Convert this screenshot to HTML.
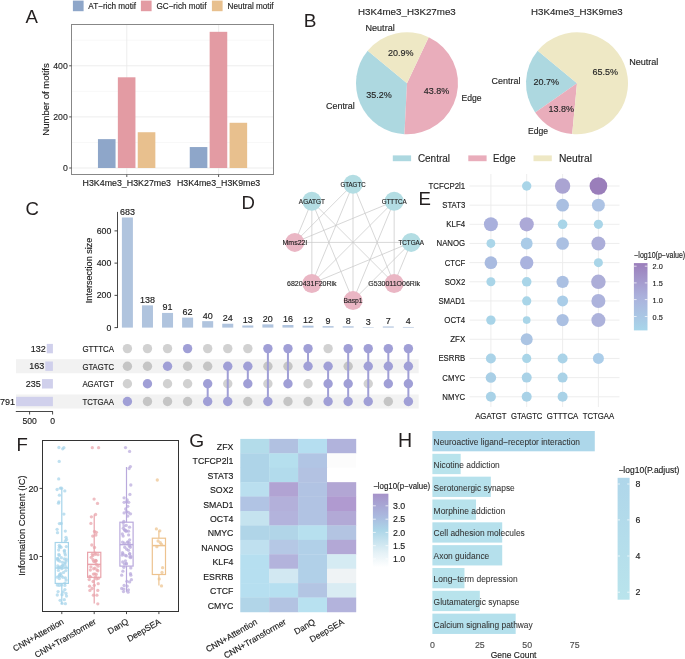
<!DOCTYPE html>
<html><head><meta charset="utf-8"><style>
html,body{margin:0;padding:0;background:#fff;}
body{width:685px;height:659px;overflow:hidden;}
svg{display:block;font-family:"Liberation Sans",sans-serif;will-change:transform;}
</style></head><body>
<svg width="685" height="659" viewBox="0 0 685 659">
<rect width="685" height="659" fill="#fff"/>
<text x="25.6" y="23" font-size="18.6" fill="#231f1f">A</text>
<text x="303.8" y="27.3" font-size="19" fill="#231f1f">B</text>
<text x="25.6" y="214.5" font-size="18.6" fill="#231f1f">C</text>
<text x="241.6" y="209.4" font-size="18.6" fill="#231f1f">D</text>
<text x="418.6" y="205" font-size="18.6" fill="#231f1f">E</text>
<text x="16.6" y="450.9" font-size="18.6" fill="#231f1f">F</text>
<text x="189.3" y="447.2" font-size="19.2" fill="#231f1f">G</text>
<text x="398" y="446.9" font-size="19.6" fill="#231f1f">H</text>
<line x1="71.5" y1="142.45" x2="273.5" y2="142.45" stroke="#f4f4f4" stroke-width="0.6"/>
<line x1="71.5" y1="91.35" x2="273.5" y2="91.35" stroke="#f4f4f4" stroke-width="0.6"/>
<line x1="71.5" y1="40.25" x2="273.5" y2="40.25" stroke="#f4f4f4" stroke-width="0.6"/>
<line x1="71.5" y1="168" x2="273.5" y2="168" stroke="#ebebeb" stroke-width="0.9"/>
<line x1="71.5" y1="116.9" x2="273.5" y2="116.9" stroke="#ebebeb" stroke-width="0.9"/>
<line x1="71.5" y1="65.8" x2="273.5" y2="65.8" stroke="#ebebeb" stroke-width="0.9"/>
<line x1="126.8" y1="24.5" x2="126.8" y2="174.5" stroke="#ebebeb" stroke-width="0.9"/>
<line x1="218.6" y1="24.5" x2="218.6" y2="174.5" stroke="#ebebeb" stroke-width="0.9"/>
<rect x="97.95" y="139.13" width="17.6" height="28.87" fill="#8ea6c9"/>
<rect x="117.85" y="77.3" width="17.6" height="90.7" fill="#e39ba3"/>
<rect x="137.75" y="132.23" width="17.6" height="35.77" fill="#e8c08e"/>
<rect x="189.75" y="147.05" width="17.6" height="20.95" fill="#8ea6c9"/>
<rect x="209.65" y="31.82" width="17.6" height="136.18" fill="#e39ba3"/>
<rect x="229.55" y="122.78" width="17.6" height="45.22" fill="#e8c08e"/>
<rect x="71.5" y="24.5" width="202" height="150" fill="none" stroke="#878787" stroke-width="1"/>
<line x1="69.2" y1="168" x2="71.5" y2="168" stroke="#444" stroke-width="0.9"/>
<text x="67.8" y="171.4" font-size="9.5" fill="#262626" stroke="#262626" stroke-width="0.14" text-anchor="end" textLength="4.85" lengthAdjust="spacingAndGlyphs">0</text>
<line x1="69.2" y1="116.9" x2="71.5" y2="116.9" stroke="#444" stroke-width="0.9"/>
<text x="67.8" y="120.3" font-size="9.5" fill="#262626" stroke="#262626" stroke-width="0.14" text-anchor="end" textLength="14.55" lengthAdjust="spacingAndGlyphs">200</text>
<line x1="69.2" y1="65.8" x2="71.5" y2="65.8" stroke="#444" stroke-width="0.9"/>
<text x="67.8" y="69.2" font-size="9.5" fill="#262626" stroke="#262626" stroke-width="0.14" text-anchor="end" textLength="14.55" lengthAdjust="spacingAndGlyphs">400</text>
<line x1="126.8" y1="174.5" x2="126.8" y2="177" stroke="#444" stroke-width="0.9"/>
<line x1="218.6" y1="174.5" x2="218.6" y2="177" stroke="#444" stroke-width="0.9"/>
<text x="126.8" y="185.6" font-size="9" fill="#1a1a1a" stroke="#1a1a1a" stroke-width="0.14" text-anchor="middle" textLength="88.5" lengthAdjust="spacingAndGlyphs">H3K4me3_H3K27me3</text>
<text x="218.6" y="185.6" font-size="9" fill="#1a1a1a" stroke="#1a1a1a" stroke-width="0.14" text-anchor="middle" textLength="83.2" lengthAdjust="spacingAndGlyphs">H3K4me3_H3K9me3</text>
<text x="0" y="0" font-size="9.6" fill="#1a1a1a" stroke="#1a1a1a" stroke-width="0.14" text-anchor="middle" textLength="72.3" lengthAdjust="spacingAndGlyphs" transform="translate(49.3,99.5) rotate(-90)">Number of motifs</text>
<rect x="72.9" y="0.6" width="10.7" height="10.6" fill="#8ea6c9"/>
<text x="88.3" y="8.9" font-size="8.8" fill="#1a1a1a" stroke="#1a1a1a" stroke-width="0.14" textLength="47.7" lengthAdjust="spacingAndGlyphs">AT−rich motif</text>
<rect x="140.9" y="0.6" width="10.7" height="10.6" fill="#e39ba3"/>
<text x="156.4" y="8.9" font-size="8.8" fill="#1a1a1a" stroke="#1a1a1a" stroke-width="0.14" textLength="50" lengthAdjust="spacingAndGlyphs">GC−rich motif</text>
<rect x="211.9" y="0.6" width="10.7" height="10.6" fill="#e8c08e"/>
<text x="227.6" y="8.9" font-size="8.8" fill="#1a1a1a" stroke="#1a1a1a" stroke-width="0.14" textLength="46" lengthAdjust="spacingAndGlyphs">Neutral motif</text>
<path d="M407,83.3 L367.7,50.79 A51,51 0 0 0 404.44,134.24 Z" fill="#add8e0"/>
<path d="M407,83.3 L404.44,134.24 A51,51 0 0 0 428.71,37.15 Z" fill="#e9adbb"/>
<path d="M407,83.3 L428.71,37.15 A51,51 0 0 0 367.7,50.79 Z" fill="#eee8c5"/>
<path d="M577,83.3 L537.7,50.79 A51,51 0 0 0 535.18,112.49 Z" fill="#add8e0"/>
<path d="M577,83.3 L535.18,112.49 A51,51 0 0 0 572.2,134.07 Z" fill="#e9adbb"/>
<path d="M577,83.3 L572.2,134.07 A51,51 0 1 0 537.7,50.79 Z" fill="#eee8c5"/>
<text x="406.9" y="15" font-size="9.3" fill="#262626" stroke="#262626" stroke-width="0.14" text-anchor="middle" textLength="97.8" lengthAdjust="spacingAndGlyphs">H3K4me3_H3K27me3</text>
<text x="576.9" y="15" font-size="9.3" fill="#262626" stroke="#262626" stroke-width="0.14" text-anchor="middle" textLength="91.7" lengthAdjust="spacingAndGlyphs">H3K4me3_H3K9me3</text>
<text x="380.1" y="31.3" font-size="9" fill="#262626" stroke="#262626" stroke-width="0.14" text-anchor="middle" textLength="29.2" lengthAdjust="spacingAndGlyphs">Neutral</text>
<text x="340.4" y="108.6" font-size="9" fill="#262626" stroke="#262626" stroke-width="0.14" text-anchor="middle" textLength="28.9" lengthAdjust="spacingAndGlyphs">Central</text>
<text x="471.5" y="100.6" font-size="9" fill="#262626" stroke="#262626" stroke-width="0.14" text-anchor="middle" textLength="20.1" lengthAdjust="spacingAndGlyphs">Edge</text>
<text x="400.8" y="56.3" font-size="9" fill="#262626" stroke="#262626" stroke-width="0.14" text-anchor="middle" textLength="25.5" lengthAdjust="spacingAndGlyphs">20.9%</text>
<text x="378.9" y="98.4" font-size="9" fill="#262626" stroke="#262626" stroke-width="0.14" text-anchor="middle" textLength="25.5" lengthAdjust="spacingAndGlyphs">35.2%</text>
<text x="436.4" y="93.6" font-size="9" fill="#262626" stroke="#262626" stroke-width="0.14" text-anchor="middle" textLength="25.5" lengthAdjust="spacingAndGlyphs">43.8%</text>
<text x="643.8" y="65.3" font-size="9" fill="#262626" stroke="#262626" stroke-width="0.14" text-anchor="middle" textLength="29.2" lengthAdjust="spacingAndGlyphs">Neutral</text>
<text x="506" y="83.6" font-size="9" fill="#262626" stroke="#262626" stroke-width="0.14" text-anchor="middle" textLength="28.9" lengthAdjust="spacingAndGlyphs">Central</text>
<text x="538" y="134.3" font-size="9" fill="#262626" stroke="#262626" stroke-width="0.14" text-anchor="middle" textLength="20.1" lengthAdjust="spacingAndGlyphs">Edge</text>
<text x="605.3" y="74.7" font-size="9" fill="#262626" stroke="#262626" stroke-width="0.14" text-anchor="middle" textLength="25.5" lengthAdjust="spacingAndGlyphs">65.5%</text>
<text x="546.3" y="84.9" font-size="9" fill="#262626" stroke="#262626" stroke-width="0.14" text-anchor="middle" textLength="25.5" lengthAdjust="spacingAndGlyphs">20.7%</text>
<text x="561.3" y="112.4" font-size="9" fill="#262626" stroke="#262626" stroke-width="0.14" text-anchor="middle" textLength="25.5" lengthAdjust="spacingAndGlyphs">13.8%</text>
<rect x="392.8" y="155.4" width="18.3" height="5.8" fill="#add8e0"/>
<text x="417.9" y="161.8" font-size="10" fill="#262626" stroke="#262626" stroke-width="0.14" textLength="32.1" lengthAdjust="spacingAndGlyphs">Central</text>
<rect x="468.3" y="155.4" width="18.3" height="5.8" fill="#e9adbb"/>
<text x="493" y="161.8" font-size="10" fill="#262626" stroke="#262626" stroke-width="0.14" textLength="22.5" lengthAdjust="spacingAndGlyphs">Edge</text>
<rect x="533.5" y="155.4" width="18.3" height="5.8" fill="#eee8c5"/>
<text x="558.9" y="161.8" font-size="10" fill="#262626" stroke="#262626" stroke-width="0.14" textLength="33.1" lengthAdjust="spacingAndGlyphs">Neutral</text>
<rect x="121.9" y="217.5" width="11" height="110.1" fill="#b0c4de"/>
<text x="127.4" y="214.9" font-size="8.4" fill="#1a1a1a" stroke="#1a1a1a" stroke-width="0.14" text-anchor="middle" textLength="15" lengthAdjust="spacingAndGlyphs">683</text>
<rect x="141.97" y="305.35" width="11" height="22.25" fill="#b0c4de"/>
<text x="147.47" y="302.75" font-size="8.4" fill="#1a1a1a" stroke="#1a1a1a" stroke-width="0.14" text-anchor="middle" textLength="15" lengthAdjust="spacingAndGlyphs">138</text>
<rect x="162.04" y="312.93" width="11" height="14.67" fill="#b0c4de"/>
<text x="167.54" y="310.33" font-size="8.4" fill="#1a1a1a" stroke="#1a1a1a" stroke-width="0.14" text-anchor="middle" textLength="10" lengthAdjust="spacingAndGlyphs">91</text>
<rect x="182.11" y="317.61" width="11" height="9.99" fill="#b0c4de"/>
<text x="187.61" y="315.01" font-size="8.4" fill="#1a1a1a" stroke="#1a1a1a" stroke-width="0.14" text-anchor="middle" textLength="10" lengthAdjust="spacingAndGlyphs">62</text>
<rect x="202.18" y="321.15" width="11" height="6.45" fill="#b0c4de"/>
<text x="207.68" y="318.55" font-size="8.4" fill="#1a1a1a" stroke="#1a1a1a" stroke-width="0.14" text-anchor="middle" textLength="10" lengthAdjust="spacingAndGlyphs">40</text>
<rect x="222.25" y="323.73" width="11" height="3.87" fill="#b0c4de"/>
<text x="227.75" y="321.13" font-size="8.4" fill="#1a1a1a" stroke="#1a1a1a" stroke-width="0.14" text-anchor="middle" textLength="10" lengthAdjust="spacingAndGlyphs">24</text>
<rect x="242.32" y="325.5" width="11" height="2.1" fill="#b0c4de"/>
<text x="247.82" y="322.9" font-size="8.4" fill="#1a1a1a" stroke="#1a1a1a" stroke-width="0.14" text-anchor="middle" textLength="10" lengthAdjust="spacingAndGlyphs">13</text>
<rect x="262.39" y="324.38" width="11" height="3.22" fill="#b0c4de"/>
<text x="267.89" y="321.78" font-size="8.4" fill="#1a1a1a" stroke="#1a1a1a" stroke-width="0.14" text-anchor="middle" textLength="10" lengthAdjust="spacingAndGlyphs">20</text>
<rect x="282.46" y="325.02" width="11" height="2.58" fill="#b0c4de"/>
<text x="287.96" y="322.42" font-size="8.4" fill="#1a1a1a" stroke="#1a1a1a" stroke-width="0.14" text-anchor="middle" textLength="10" lengthAdjust="spacingAndGlyphs">16</text>
<rect x="302.53" y="325.67" width="11" height="1.93" fill="#b0c4de"/>
<text x="308.03" y="323.07" font-size="8.4" fill="#1a1a1a" stroke="#1a1a1a" stroke-width="0.14" text-anchor="middle" textLength="10" lengthAdjust="spacingAndGlyphs">12</text>
<rect x="322.6" y="326.15" width="11" height="1.45" fill="#b0c4de"/>
<text x="328.1" y="323.55" font-size="8.4" fill="#1a1a1a" stroke="#1a1a1a" stroke-width="0.14" text-anchor="middle" textLength="5" lengthAdjust="spacingAndGlyphs">9</text>
<rect x="342.67" y="326.31" width="11" height="1.29" fill="#b0c4de"/>
<text x="348.17" y="323.71" font-size="8.4" fill="#1a1a1a" stroke="#1a1a1a" stroke-width="0.14" text-anchor="middle" textLength="5" lengthAdjust="spacingAndGlyphs">8</text>
<rect x="362.74" y="327.12" width="11" height="0.48" fill="#b0c4de"/>
<text x="368.24" y="324.52" font-size="8.4" fill="#1a1a1a" stroke="#1a1a1a" stroke-width="0.14" text-anchor="middle" textLength="5" lengthAdjust="spacingAndGlyphs">3</text>
<rect x="382.81" y="326.47" width="11" height="1.13" fill="#b0c4de"/>
<text x="388.31" y="323.87" font-size="8.4" fill="#1a1a1a" stroke="#1a1a1a" stroke-width="0.14" text-anchor="middle" textLength="5" lengthAdjust="spacingAndGlyphs">7</text>
<rect x="402.88" y="326.96" width="11" height="0.64" fill="#b0c4de"/>
<text x="408.38" y="324.36" font-size="8.4" fill="#1a1a1a" stroke="#1a1a1a" stroke-width="0.14" text-anchor="middle" textLength="5" lengthAdjust="spacingAndGlyphs">4</text>
<line x1="117.5" y1="211.9" x2="117.5" y2="328" stroke="#333" stroke-width="0.9"/>
<line x1="114.5" y1="327.6" x2="117.5" y2="327.6" stroke="#333" stroke-width="0.9"/>
<text x="111.3" y="330.7" font-size="8.75" fill="#1a1a1a" stroke="#1a1a1a" stroke-width="0.14" text-anchor="end" textLength="4.87" lengthAdjust="spacingAndGlyphs">0</text>
<line x1="114.5" y1="295.36" x2="117.5" y2="295.36" stroke="#333" stroke-width="0.9"/>
<text x="111.3" y="298.46" font-size="8.75" fill="#1a1a1a" stroke="#1a1a1a" stroke-width="0.14" text-anchor="end" textLength="14.61" lengthAdjust="spacingAndGlyphs">200</text>
<line x1="114.5" y1="263.12" x2="117.5" y2="263.12" stroke="#333" stroke-width="0.9"/>
<text x="111.3" y="266.22" font-size="8.75" fill="#1a1a1a" stroke="#1a1a1a" stroke-width="0.14" text-anchor="end" textLength="14.61" lengthAdjust="spacingAndGlyphs">400</text>
<line x1="114.5" y1="230.88" x2="117.5" y2="230.88" stroke="#333" stroke-width="0.9"/>
<text x="111.3" y="233.98" font-size="8.75" fill="#1a1a1a" stroke="#1a1a1a" stroke-width="0.14" text-anchor="end" textLength="14.61" lengthAdjust="spacingAndGlyphs">600</text>
<text x="0" y="0" font-size="8.6" fill="#1a1a1a" stroke="#1a1a1a" stroke-width="0.14" text-anchor="middle" textLength="65.5" lengthAdjust="spacingAndGlyphs" transform="translate(92.2,270.4) rotate(-90)">Intersection size</text>
<rect x="16" y="359.15" width="402.7" height="14.1" fill="#f2f2f2"/>
<rect x="16" y="394.45" width="402.7" height="14.1" fill="#f2f2f2"/>
<rect x="46.76" y="343.9" width="6.14" height="9.4" fill="#d0d0ec"/>
<text x="45.66" y="351.7" font-size="8.6" fill="#1a1a1a" stroke="#1a1a1a" stroke-width="0.14" text-anchor="end" textLength="15" lengthAdjust="spacingAndGlyphs">132</text>
<text x="114" y="351.9" font-size="8.8" fill="#1a1a1a" stroke="#1a1a1a" stroke-width="0.14" text-anchor="end" textLength="31.6" lengthAdjust="spacingAndGlyphs">GTTTCA</text>
<rect x="45.31" y="361.5" width="7.59" height="9.4" fill="#d0d0ec"/>
<text x="44.21" y="369.3" font-size="8.6" fill="#1a1a1a" stroke="#1a1a1a" stroke-width="0.14" text-anchor="end" textLength="15" lengthAdjust="spacingAndGlyphs">163</text>
<text x="114" y="369.5" font-size="8.8" fill="#1a1a1a" stroke="#1a1a1a" stroke-width="0.14" text-anchor="end" textLength="31.6" lengthAdjust="spacingAndGlyphs">GTAGTC</text>
<rect x="41.96" y="379.1" width="10.94" height="9.4" fill="#d0d0ec"/>
<text x="40.86" y="386.9" font-size="8.6" fill="#1a1a1a" stroke="#1a1a1a" stroke-width="0.14" text-anchor="end" textLength="15" lengthAdjust="spacingAndGlyphs">235</text>
<text x="114" y="387.1" font-size="8.8" fill="#1a1a1a" stroke="#1a1a1a" stroke-width="0.14" text-anchor="end" textLength="31.6" lengthAdjust="spacingAndGlyphs">AGATGT</text>
<rect x="16.08" y="396.8" width="36.82" height="9.4" fill="#d0d0ec"/>
<text x="14.98" y="404.6" font-size="8.6" fill="#1a1a1a" stroke="#1a1a1a" stroke-width="0.14" text-anchor="end" textLength="15" lengthAdjust="spacingAndGlyphs">791</text>
<text x="114" y="404.8" font-size="8.8" fill="#1a1a1a" stroke="#1a1a1a" stroke-width="0.14" text-anchor="end" textLength="31.6" lengthAdjust="spacingAndGlyphs">TCTGAA</text>
<line x1="15.8" y1="411.5" x2="52.9" y2="411.5" stroke="#333" stroke-width="0.9"/>
<line x1="29.6" y1="411.5" x2="29.6" y2="414.5" stroke="#333" stroke-width="0.9"/>
<line x1="52.6" y1="411.5" x2="52.6" y2="414.5" stroke="#333" stroke-width="0.9"/>
<text x="29.6" y="424.3" font-size="8.6" fill="#1a1a1a" stroke="#1a1a1a" stroke-width="0.14" text-anchor="middle">500</text>
<text x="52.6" y="424.3" font-size="8.6" fill="#1a1a1a" stroke="#1a1a1a" stroke-width="0.14" text-anchor="middle">0</text>
<circle cx="127.4" cy="348.6" r="4.7" fill="#d1d1d1"/>
<circle cx="127.4" cy="366.2" r="4.7" fill="#c5c5c5"/>
<circle cx="127.4" cy="383.8" r="4.7" fill="#d1d1d1"/>
<circle cx="127.4" cy="401.5" r="4.7" fill="#a09fd6"/>
<circle cx="147.47" cy="348.6" r="4.7" fill="#d1d1d1"/>
<circle cx="147.47" cy="366.2" r="4.7" fill="#c5c5c5"/>
<circle cx="147.47" cy="401.5" r="4.7" fill="#c5c5c5"/>
<circle cx="147.47" cy="383.8" r="4.7" fill="#a09fd6"/>
<circle cx="167.54" cy="348.6" r="4.7" fill="#d1d1d1"/>
<circle cx="167.54" cy="383.8" r="4.7" fill="#d1d1d1"/>
<circle cx="167.54" cy="401.5" r="4.7" fill="#c5c5c5"/>
<circle cx="167.54" cy="366.2" r="4.7" fill="#a09fd6"/>
<circle cx="187.61" cy="366.2" r="4.7" fill="#c5c5c5"/>
<circle cx="187.61" cy="383.8" r="4.7" fill="#d1d1d1"/>
<circle cx="187.61" cy="401.5" r="4.7" fill="#c5c5c5"/>
<circle cx="187.61" cy="348.6" r="4.7" fill="#a09fd6"/>
<circle cx="207.68" cy="348.6" r="4.7" fill="#d1d1d1"/>
<circle cx="207.68" cy="366.2" r="4.7" fill="#c5c5c5"/>
<line x1="207.68" y1="383.8" x2="207.68" y2="401.5" stroke="#a09fd6" stroke-width="2"/>
<circle cx="207.68" cy="383.8" r="4.7" fill="#a09fd6"/>
<circle cx="207.68" cy="401.5" r="4.7" fill="#a09fd6"/>
<circle cx="227.75" cy="348.6" r="4.7" fill="#d1d1d1"/>
<circle cx="227.75" cy="383.8" r="4.7" fill="#d1d1d1"/>
<line x1="227.75" y1="366.2" x2="227.75" y2="401.5" stroke="#a09fd6" stroke-width="2"/>
<circle cx="227.75" cy="366.2" r="4.7" fill="#a09fd6"/>
<circle cx="227.75" cy="401.5" r="4.7" fill="#a09fd6"/>
<circle cx="247.82" cy="348.6" r="4.7" fill="#d1d1d1"/>
<circle cx="247.82" cy="401.5" r="4.7" fill="#c5c5c5"/>
<line x1="247.82" y1="366.2" x2="247.82" y2="383.8" stroke="#a09fd6" stroke-width="2"/>
<circle cx="247.82" cy="366.2" r="4.7" fill="#a09fd6"/>
<circle cx="247.82" cy="383.8" r="4.7" fill="#a09fd6"/>
<circle cx="267.89" cy="366.2" r="4.7" fill="#c5c5c5"/>
<circle cx="267.89" cy="383.8" r="4.7" fill="#d1d1d1"/>
<line x1="267.89" y1="348.6" x2="267.89" y2="401.5" stroke="#a09fd6" stroke-width="2"/>
<circle cx="267.89" cy="348.6" r="4.7" fill="#a09fd6"/>
<circle cx="267.89" cy="401.5" r="4.7" fill="#a09fd6"/>
<circle cx="287.96" cy="366.2" r="4.7" fill="#c5c5c5"/>
<circle cx="287.96" cy="401.5" r="4.7" fill="#c5c5c5"/>
<line x1="287.96" y1="348.6" x2="287.96" y2="383.8" stroke="#a09fd6" stroke-width="2"/>
<circle cx="287.96" cy="348.6" r="4.7" fill="#a09fd6"/>
<circle cx="287.96" cy="383.8" r="4.7" fill="#a09fd6"/>
<circle cx="308.03" cy="383.8" r="4.7" fill="#d1d1d1"/>
<circle cx="308.03" cy="401.5" r="4.7" fill="#c5c5c5"/>
<line x1="308.03" y1="348.6" x2="308.03" y2="366.2" stroke="#a09fd6" stroke-width="2"/>
<circle cx="308.03" cy="348.6" r="4.7" fill="#a09fd6"/>
<circle cx="308.03" cy="366.2" r="4.7" fill="#a09fd6"/>
<circle cx="328.1" cy="348.6" r="4.7" fill="#d1d1d1"/>
<line x1="328.1" y1="366.2" x2="328.1" y2="401.5" stroke="#a09fd6" stroke-width="2"/>
<circle cx="328.1" cy="366.2" r="4.7" fill="#a09fd6"/>
<circle cx="328.1" cy="383.8" r="4.7" fill="#a09fd6"/>
<circle cx="328.1" cy="401.5" r="4.7" fill="#a09fd6"/>
<circle cx="348.17" cy="366.2" r="4.7" fill="#c5c5c5"/>
<line x1="348.17" y1="348.6" x2="348.17" y2="401.5" stroke="#a09fd6" stroke-width="2"/>
<circle cx="348.17" cy="348.6" r="4.7" fill="#a09fd6"/>
<circle cx="348.17" cy="383.8" r="4.7" fill="#a09fd6"/>
<circle cx="348.17" cy="401.5" r="4.7" fill="#a09fd6"/>
<circle cx="368.24" cy="383.8" r="4.7" fill="#d1d1d1"/>
<line x1="368.24" y1="348.6" x2="368.24" y2="401.5" stroke="#a09fd6" stroke-width="2"/>
<circle cx="368.24" cy="348.6" r="4.7" fill="#a09fd6"/>
<circle cx="368.24" cy="366.2" r="4.7" fill="#a09fd6"/>
<circle cx="368.24" cy="401.5" r="4.7" fill="#a09fd6"/>
<circle cx="388.31" cy="401.5" r="4.7" fill="#c5c5c5"/>
<line x1="388.31" y1="348.6" x2="388.31" y2="383.8" stroke="#a09fd6" stroke-width="2"/>
<circle cx="388.31" cy="348.6" r="4.7" fill="#a09fd6"/>
<circle cx="388.31" cy="366.2" r="4.7" fill="#a09fd6"/>
<circle cx="388.31" cy="383.8" r="4.7" fill="#a09fd6"/>
<line x1="408.38" y1="348.6" x2="408.38" y2="401.5" stroke="#a09fd6" stroke-width="2"/>
<circle cx="408.38" cy="348.6" r="4.7" fill="#a09fd6"/>
<circle cx="408.38" cy="366.2" r="4.7" fill="#a09fd6"/>
<circle cx="408.38" cy="383.8" r="4.7" fill="#a09fd6"/>
<circle cx="408.38" cy="401.5" r="4.7" fill="#a09fd6"/>
<line x1="353" y1="184.2" x2="294.8" y2="242.4" stroke="#c9c9c9" stroke-width="0.75"/>
<line x1="353" y1="184.2" x2="311.85" y2="283.55" stroke="#c9c9c9" stroke-width="0.75"/>
<line x1="353" y1="184.2" x2="353" y2="300.6" stroke="#c9c9c9" stroke-width="0.75"/>
<line x1="353" y1="184.2" x2="394.15" y2="283.55" stroke="#c9c9c9" stroke-width="0.75"/>
<line x1="311.85" y1="201.25" x2="294.8" y2="242.4" stroke="#c9c9c9" stroke-width="0.75"/>
<line x1="311.85" y1="201.25" x2="311.85" y2="283.55" stroke="#c9c9c9" stroke-width="0.75"/>
<line x1="311.85" y1="201.25" x2="353" y2="300.6" stroke="#c9c9c9" stroke-width="0.75"/>
<line x1="311.85" y1="201.25" x2="394.15" y2="283.55" stroke="#c9c9c9" stroke-width="0.75"/>
<line x1="394.15" y1="201.25" x2="294.8" y2="242.4" stroke="#c9c9c9" stroke-width="0.75"/>
<line x1="394.15" y1="201.25" x2="311.85" y2="283.55" stroke="#c9c9c9" stroke-width="0.75"/>
<line x1="394.15" y1="201.25" x2="353" y2="300.6" stroke="#c9c9c9" stroke-width="0.75"/>
<line x1="394.15" y1="201.25" x2="394.15" y2="283.55" stroke="#c9c9c9" stroke-width="0.75"/>
<line x1="411.2" y1="242.4" x2="294.8" y2="242.4" stroke="#c9c9c9" stroke-width="0.75"/>
<line x1="411.2" y1="242.4" x2="311.85" y2="283.55" stroke="#c9c9c9" stroke-width="0.75"/>
<line x1="411.2" y1="242.4" x2="353" y2="300.6" stroke="#c9c9c9" stroke-width="0.75"/>
<line x1="411.2" y1="242.4" x2="394.15" y2="283.55" stroke="#c9c9c9" stroke-width="0.75"/>
<circle cx="353" cy="184.2" r="9.5" fill="#b3dde3"/>
<circle cx="311.85" cy="201.25" r="9.5" fill="#b3dde3"/>
<circle cx="394.15" cy="201.25" r="9.5" fill="#b3dde3"/>
<circle cx="411.2" cy="242.4" r="9.5" fill="#b3dde3"/>
<circle cx="294.8" cy="242.4" r="9.5" fill="#eab6c4"/>
<circle cx="311.85" cy="283.55" r="9.5" fill="#eab6c4"/>
<circle cx="353" cy="300.6" r="9.5" fill="#eab6c4"/>
<circle cx="394.15" cy="283.55" r="9.5" fill="#eab6c4"/>
<text x="353" y="186.7" font-size="7" fill="#1f1f1f" stroke="#1f1f1f" stroke-width="0.14" text-anchor="middle" textLength="25.2" lengthAdjust="spacingAndGlyphs">GTAGTC</text>
<text x="311.85" y="203.75" font-size="7" fill="#1f1f1f" stroke="#1f1f1f" stroke-width="0.14" text-anchor="middle" textLength="26" lengthAdjust="spacingAndGlyphs">AGATGT</text>
<text x="394.15" y="203.75" font-size="7" fill="#1f1f1f" stroke="#1f1f1f" stroke-width="0.14" text-anchor="middle" textLength="25" lengthAdjust="spacingAndGlyphs">GTTTCA</text>
<text x="411.2" y="244.9" font-size="7" fill="#1f1f1f" stroke="#1f1f1f" stroke-width="0.14" text-anchor="middle" textLength="25.6" lengthAdjust="spacingAndGlyphs">TCTGAA</text>
<text x="294.8" y="244.9" font-size="7" fill="#1f1f1f" stroke="#1f1f1f" stroke-width="0.14" text-anchor="middle" textLength="24.6" lengthAdjust="spacingAndGlyphs">Mms22l</text>
<text x="311.85" y="286.05" font-size="7" fill="#1f1f1f" stroke="#1f1f1f" stroke-width="0.14" text-anchor="middle" textLength="49.6" lengthAdjust="spacingAndGlyphs">6820431F20Rik</text>
<text x="353" y="303.1" font-size="7" fill="#1f1f1f" stroke="#1f1f1f" stroke-width="0.14" text-anchor="middle" textLength="19.2" lengthAdjust="spacingAndGlyphs">Basp1</text>
<text x="394.15" y="286.05" font-size="7" fill="#1f1f1f" stroke="#1f1f1f" stroke-width="0.14" text-anchor="middle" textLength="51.6" lengthAdjust="spacingAndGlyphs">G530011O06Rik</text>
<line x1="490.9" y1="174" x2="490.9" y2="407" stroke="#ebebeb" stroke-width="0.9"/>
<line x1="526.7" y1="174" x2="526.7" y2="407" stroke="#ebebeb" stroke-width="0.9"/>
<line x1="562.6" y1="174" x2="562.6" y2="407" stroke="#ebebeb" stroke-width="0.9"/>
<line x1="598.4" y1="174" x2="598.4" y2="407" stroke="#ebebeb" stroke-width="0.9"/>
<line x1="469.5" y1="186" x2="619.5" y2="186" stroke="#ebebeb" stroke-width="0.9"/>
<line x1="469.5" y1="205.16" x2="619.5" y2="205.16" stroke="#ebebeb" stroke-width="0.9"/>
<line x1="469.5" y1="224.32" x2="619.5" y2="224.32" stroke="#ebebeb" stroke-width="0.9"/>
<line x1="469.5" y1="243.48" x2="619.5" y2="243.48" stroke="#ebebeb" stroke-width="0.9"/>
<line x1="469.5" y1="262.64" x2="619.5" y2="262.64" stroke="#ebebeb" stroke-width="0.9"/>
<line x1="469.5" y1="281.8" x2="619.5" y2="281.8" stroke="#ebebeb" stroke-width="0.9"/>
<line x1="469.5" y1="300.96" x2="619.5" y2="300.96" stroke="#ebebeb" stroke-width="0.9"/>
<line x1="469.5" y1="320.12" x2="619.5" y2="320.12" stroke="#ebebeb" stroke-width="0.9"/>
<line x1="469.5" y1="339.28" x2="619.5" y2="339.28" stroke="#ebebeb" stroke-width="0.9"/>
<line x1="469.5" y1="358.44" x2="619.5" y2="358.44" stroke="#ebebeb" stroke-width="0.9"/>
<line x1="469.5" y1="377.6" x2="619.5" y2="377.6" stroke="#ebebeb" stroke-width="0.9"/>
<line x1="469.5" y1="396.76" x2="619.5" y2="396.76" stroke="#ebebeb" stroke-width="0.9"/>
<text x="465.2" y="189" font-size="8.3" fill="#1a1a1a" stroke="#1a1a1a" stroke-width="0.14" text-anchor="end" textLength="36.7" lengthAdjust="spacingAndGlyphs">TCFCP2l1</text>
<text x="465.2" y="208.16" font-size="8.3" fill="#1a1a1a" stroke="#1a1a1a" stroke-width="0.14" text-anchor="end" textLength="22.9" lengthAdjust="spacingAndGlyphs">STAT3</text>
<text x="465.2" y="227.32" font-size="8.3" fill="#1a1a1a" stroke="#1a1a1a" stroke-width="0.14" text-anchor="end" textLength="18.9" lengthAdjust="spacingAndGlyphs">KLF4</text>
<text x="465.2" y="246.48" font-size="8.3" fill="#1a1a1a" stroke="#1a1a1a" stroke-width="0.14" text-anchor="end" textLength="28.7" lengthAdjust="spacingAndGlyphs">NANOG</text>
<text x="465.2" y="265.64" font-size="8.3" fill="#1a1a1a" stroke="#1a1a1a" stroke-width="0.14" text-anchor="end" textLength="20.5" lengthAdjust="spacingAndGlyphs">CTCF</text>
<text x="465.2" y="284.8" font-size="8.3" fill="#1a1a1a" stroke="#1a1a1a" stroke-width="0.14" text-anchor="end" textLength="20.5" lengthAdjust="spacingAndGlyphs">SOX2</text>
<text x="465.2" y="303.96" font-size="8.3" fill="#1a1a1a" stroke="#1a1a1a" stroke-width="0.14" text-anchor="end" textLength="26.8" lengthAdjust="spacingAndGlyphs">SMAD1</text>
<text x="465.2" y="323.12" font-size="8.3" fill="#1a1a1a" stroke="#1a1a1a" stroke-width="0.14" text-anchor="end" textLength="20.9" lengthAdjust="spacingAndGlyphs">OCT4</text>
<text x="465.2" y="342.28" font-size="8.3" fill="#1a1a1a" stroke="#1a1a1a" stroke-width="0.14" text-anchor="end" textLength="15" lengthAdjust="spacingAndGlyphs">ZFX</text>
<text x="465.2" y="361.44" font-size="8.3" fill="#1a1a1a" stroke="#1a1a1a" stroke-width="0.14" text-anchor="end" textLength="26.8" lengthAdjust="spacingAndGlyphs">ESRRB</text>
<text x="465.2" y="380.6" font-size="8.3" fill="#1a1a1a" stroke="#1a1a1a" stroke-width="0.14" text-anchor="end" textLength="22.9" lengthAdjust="spacingAndGlyphs">CMYC</text>
<text x="465.2" y="399.76" font-size="8.3" fill="#1a1a1a" stroke="#1a1a1a" stroke-width="0.14" text-anchor="end" textLength="22.9" lengthAdjust="spacingAndGlyphs">NMYC</text>
<text x="490.9" y="419" font-size="8.2" fill="#1a1a1a" stroke="#1a1a1a" stroke-width="0.14" text-anchor="middle" textLength="31.5" lengthAdjust="spacingAndGlyphs">AGATGT</text>
<text x="526.7" y="419" font-size="8.2" fill="#1a1a1a" stroke="#1a1a1a" stroke-width="0.14" text-anchor="middle" textLength="31.5" lengthAdjust="spacingAndGlyphs">GTAGTC</text>
<text x="562.6" y="419" font-size="8.2" fill="#1a1a1a" stroke="#1a1a1a" stroke-width="0.14" text-anchor="middle" textLength="31.5" lengthAdjust="spacingAndGlyphs">GTTTCA</text>
<text x="598.4" y="419" font-size="8.2" fill="#1a1a1a" stroke="#1a1a1a" stroke-width="0.14" text-anchor="middle" textLength="31.5" lengthAdjust="spacingAndGlyphs">TCTGAA</text>
<circle cx="526.7" cy="186" r="4.7" fill="#a9d5e8"/>
<circle cx="562.6" cy="186" r="7.65" fill="#aaa4d2"/>
<circle cx="598.4" cy="186" r="8.85" fill="#9a7eba"/>
<circle cx="562.6" cy="205.16" r="6.35" fill="#a9bfe1"/>
<circle cx="598.4" cy="205.16" r="6.45" fill="#adc3e4"/>
<circle cx="490.9" cy="224.32" r="7" fill="#a9b0dc"/>
<circle cx="526.7" cy="224.32" r="7.1" fill="#aca9d7"/>
<circle cx="562.6" cy="224.32" r="4.8" fill="#a9d5e8"/>
<circle cx="598.4" cy="224.32" r="4.6" fill="#a9d5e8"/>
<circle cx="490.9" cy="243.48" r="4.4" fill="#abd6e9"/>
<circle cx="526.7" cy="243.48" r="5.9" fill="#aacbe7"/>
<circle cx="562.6" cy="243.48" r="6.35" fill="#abc0e2"/>
<circle cx="598.4" cy="243.48" r="7" fill="#acaed9"/>
<circle cx="490.9" cy="262.64" r="6.35" fill="#a9bbe0"/>
<circle cx="526.7" cy="262.64" r="6.7" fill="#aab3de"/>
<circle cx="598.4" cy="262.64" r="4.5" fill="#a9d5e8"/>
<circle cx="490.9" cy="281.8" r="4.5" fill="#a9d5e8"/>
<circle cx="526.7" cy="281.8" r="4.8" fill="#a9d5e8"/>
<circle cx="562.6" cy="281.8" r="6.15" fill="#abc0e2"/>
<circle cx="598.4" cy="281.8" r="7.25" fill="#adaed8"/>
<circle cx="526.7" cy="300.96" r="4.6" fill="#a9d5e8"/>
<circle cx="562.6" cy="300.96" r="5.5" fill="#aacde8"/>
<circle cx="598.4" cy="300.96" r="7" fill="#adb3dc"/>
<circle cx="490.9" cy="320.12" r="4.7" fill="#a8d4e8"/>
<circle cx="526.7" cy="320.12" r="3.85" fill="#a9d5e8"/>
<circle cx="562.6" cy="320.12" r="6.15" fill="#abc0e2"/>
<circle cx="598.4" cy="320.12" r="7" fill="#adb2db"/>
<circle cx="526.7" cy="339.28" r="6" fill="#abc4e3"/>
<circle cx="490.9" cy="358.44" r="5" fill="#aad3e8"/>
<circle cx="526.7" cy="358.44" r="4.6" fill="#a9d5e8"/>
<circle cx="562.6" cy="358.44" r="5" fill="#aad3e8"/>
<circle cx="598.4" cy="358.44" r="5.5" fill="#abcde9"/>
<circle cx="490.9" cy="377.6" r="5.25" fill="#a9cfe6"/>
<circle cx="526.7" cy="377.6" r="5" fill="#a9d2e7"/>
<circle cx="562.6" cy="377.6" r="5" fill="#a9d2e7"/>
<circle cx="490.9" cy="396.76" r="5" fill="#a9d2e7"/>
<circle cx="526.7" cy="396.76" r="5" fill="#a9d2e7"/>
<circle cx="562.6" cy="396.76" r="5" fill="#a9d2e7"/>
<defs><linearGradient id="gE" x1="0" y1="0" x2="0" y2="1"><stop offset="0" stop-color="#9b7ebb"/><stop offset="0.5" stop-color="#abb1dc"/><stop offset="1" stop-color="#a8d6ea"/></linearGradient><linearGradient id="gG" x1="0" y1="0" x2="0" y2="1"><stop offset="0" stop-color="#a692c9"/><stop offset="0.3" stop-color="#aab8de"/><stop offset="0.5" stop-color="#acd6e8"/><stop offset="0.8" stop-color="#e4f1f6"/><stop offset="1" stop-color="#ffffff"/></linearGradient><linearGradient id="gH" x1="0" y1="0" x2="0" y2="1"><stop offset="0" stop-color="#afd6ea"/><stop offset="1" stop-color="#b9e4ec"/></linearGradient></defs>
<rect x="633.9" y="263.1" width="13.6" height="67.3" fill="url(#gE)"/>
<line x1="633.9" y1="266.2" x2="636.6" y2="266.2" stroke="#ffffff" stroke-width="0.7"/>
<line x1="644.8" y1="266.2" x2="647.5" y2="266.2" stroke="#ffffff" stroke-width="0.7"/>
<text x="652.6" y="269.2" font-size="8" fill="#1a1a1a" stroke="#1a1a1a" stroke-width="0.14" textLength="10.2" lengthAdjust="spacingAndGlyphs">2.0</text>
<line x1="633.9" y1="282.9" x2="636.6" y2="282.9" stroke="#ffffff" stroke-width="0.7"/>
<line x1="644.8" y1="282.9" x2="647.5" y2="282.9" stroke="#ffffff" stroke-width="0.7"/>
<text x="652.6" y="285.9" font-size="8" fill="#1a1a1a" stroke="#1a1a1a" stroke-width="0.14" textLength="10.2" lengthAdjust="spacingAndGlyphs">1.5</text>
<line x1="633.9" y1="299.6" x2="636.6" y2="299.6" stroke="#ffffff" stroke-width="0.7"/>
<line x1="644.8" y1="299.6" x2="647.5" y2="299.6" stroke="#ffffff" stroke-width="0.7"/>
<text x="652.6" y="302.6" font-size="8" fill="#1a1a1a" stroke="#1a1a1a" stroke-width="0.14" textLength="10.2" lengthAdjust="spacingAndGlyphs">1.0</text>
<line x1="633.9" y1="316.5" x2="636.6" y2="316.5" stroke="#ffffff" stroke-width="0.7"/>
<line x1="644.8" y1="316.5" x2="647.5" y2="316.5" stroke="#ffffff" stroke-width="0.7"/>
<text x="652.6" y="319.5" font-size="8" fill="#1a1a1a" stroke="#1a1a1a" stroke-width="0.14" textLength="10.2" lengthAdjust="spacingAndGlyphs">0.5</text>
<text x="634.2" y="258.2" font-size="8.2" fill="#1a1a1a" stroke="#1a1a1a" stroke-width="0.14" textLength="51" lengthAdjust="spacingAndGlyphs">−log10(p−value)</text>
<circle cx="58.9" cy="447.5" r="1.65" fill="#a6d4ea" fill-opacity="0.72"/>
<circle cx="62.7" cy="448.8" r="1.65" fill="#a6d4ea" fill-opacity="0.72"/>
<circle cx="63.9" cy="447.7" r="1.65" fill="#a6d4ea" fill-opacity="0.72"/>
<circle cx="59.2" cy="461.4" r="1.65" fill="#a6d4ea" fill-opacity="0.72"/>
<circle cx="58.7" cy="478.9" r="1.65" fill="#a6d4ea" fill-opacity="0.72"/>
<circle cx="57.1" cy="489.5" r="1.65" fill="#a6d4ea" fill-opacity="0.72"/>
<circle cx="60.3" cy="488.2" r="1.65" fill="#a6d4ea" fill-opacity="0.72"/>
<circle cx="61.6" cy="488.2" r="1.65" fill="#a6d4ea" fill-opacity="0.72"/>
<circle cx="64.8" cy="490.9" r="1.65" fill="#a6d4ea" fill-opacity="0.72"/>
<circle cx="59.4" cy="495.2" r="1.65" fill="#a6d4ea" fill-opacity="0.72"/>
<circle cx="58.5" cy="503.2" r="1.65" fill="#a6d4ea" fill-opacity="0.72"/>
<circle cx="58.9" cy="501.8" r="1.65" fill="#a6d4ea" fill-opacity="0.72"/>
<circle cx="63.9" cy="514.1" r="1.65" fill="#a6d4ea" fill-opacity="0.72"/>
<circle cx="59.4" cy="523.6" r="1.65" fill="#a6d4ea" fill-opacity="0.72"/>
<circle cx="61.2" cy="523.5" r="1.65" fill="#a6d4ea" fill-opacity="0.72"/>
<circle cx="57.1" cy="529.3" r="1.65" fill="#a6d4ea" fill-opacity="0.72"/>
<circle cx="57.5" cy="532.7" r="1.65" fill="#a6d4ea" fill-opacity="0.72"/>
<circle cx="65.3" cy="531.1" r="1.65" fill="#a6d4ea" fill-opacity="0.72"/>
<circle cx="66" cy="537.3" r="1.65" fill="#a6d4ea" fill-opacity="0.72"/>
<circle cx="66.6" cy="539.5" r="1.65" fill="#a6d4ea" fill-opacity="0.72"/>
<circle cx="65.3" cy="540.9" r="1.65" fill="#a6d4ea" fill-opacity="0.72"/>
<circle cx="57.3" cy="585.1" r="1.65" fill="#a6d4ea" fill-opacity="0.72"/>
<circle cx="59.2" cy="585.4" r="1.65" fill="#a6d4ea" fill-opacity="0.72"/>
<circle cx="61.5" cy="585.1" r="1.65" fill="#a6d4ea" fill-opacity="0.72"/>
<circle cx="64.9" cy="585.4" r="1.65" fill="#a6d4ea" fill-opacity="0.72"/>
<circle cx="58.1" cy="591.6" r="1.65" fill="#a6d4ea" fill-opacity="0.72"/>
<circle cx="64.9" cy="589.6" r="1.65" fill="#a6d4ea" fill-opacity="0.72"/>
<circle cx="63.2" cy="591.9" r="1.65" fill="#a6d4ea" fill-opacity="0.72"/>
<circle cx="57.3" cy="595" r="1.65" fill="#a6d4ea" fill-opacity="0.72"/>
<circle cx="62" cy="594.7" r="1.65" fill="#a6d4ea" fill-opacity="0.72"/>
<circle cx="66" cy="593.5" r="1.65" fill="#a6d4ea" fill-opacity="0.72"/>
<circle cx="66.5" cy="596.1" r="1.65" fill="#a6d4ea" fill-opacity="0.72"/>
<circle cx="60.1" cy="600.3" r="1.65" fill="#a6d4ea" fill-opacity="0.72"/>
<circle cx="64.3" cy="599.7" r="1.65" fill="#a6d4ea" fill-opacity="0.72"/>
<circle cx="62" cy="603.4" r="1.65" fill="#a6d4ea" fill-opacity="0.72"/>
<circle cx="65.4" cy="603.7" r="1.65" fill="#a6d4ea" fill-opacity="0.72"/>
<circle cx="65.7" cy="566.66" r="1.65" fill="#a6d4ea" fill-opacity="0.72"/>
<circle cx="62.6" cy="565.51" r="1.65" fill="#a6d4ea" fill-opacity="0.72"/>
<circle cx="62.99" cy="565.61" r="1.65" fill="#a6d4ea" fill-opacity="0.72"/>
<circle cx="59.99" cy="546.35" r="1.65" fill="#a6d4ea" fill-opacity="0.72"/>
<circle cx="63.58" cy="572.45" r="1.65" fill="#a6d4ea" fill-opacity="0.72"/>
<circle cx="66.08" cy="580.05" r="1.65" fill="#a6d4ea" fill-opacity="0.72"/>
<circle cx="58.65" cy="567.68" r="1.65" fill="#a6d4ea" fill-opacity="0.72"/>
<circle cx="57.75" cy="565.97" r="1.65" fill="#a6d4ea" fill-opacity="0.72"/>
<circle cx="57.48" cy="558.39" r="1.65" fill="#a6d4ea" fill-opacity="0.72"/>
<circle cx="64.95" cy="563.93" r="1.65" fill="#a6d4ea" fill-opacity="0.72"/>
<circle cx="61.8" cy="568.69" r="1.65" fill="#a6d4ea" fill-opacity="0.72"/>
<circle cx="59.76" cy="561.2" r="1.65" fill="#a6d4ea" fill-opacity="0.72"/>
<circle cx="64.93" cy="583.22" r="1.65" fill="#a6d4ea" fill-opacity="0.72"/>
<circle cx="59.31" cy="555.39" r="1.65" fill="#a6d4ea" fill-opacity="0.72"/>
<circle cx="64.25" cy="551.06" r="1.65" fill="#a6d4ea" fill-opacity="0.72"/>
<circle cx="60.76" cy="573.57" r="1.65" fill="#a6d4ea" fill-opacity="0.72"/>
<circle cx="57.21" cy="577.15" r="1.65" fill="#a6d4ea" fill-opacity="0.72"/>
<circle cx="61.52" cy="575.88" r="1.65" fill="#a6d4ea" fill-opacity="0.72"/>
<circle cx="57.87" cy="558.75" r="1.65" fill="#a6d4ea" fill-opacity="0.72"/>
<circle cx="59.68" cy="574.34" r="1.65" fill="#a6d4ea" fill-opacity="0.72"/>
<circle cx="66.07" cy="561.12" r="1.65" fill="#a6d4ea" fill-opacity="0.72"/>
<circle cx="59.47" cy="547.33" r="1.65" fill="#a6d4ea" fill-opacity="0.72"/>
<circle cx="64.53" cy="550.4" r="1.65" fill="#a6d4ea" fill-opacity="0.72"/>
<circle cx="61.32" cy="566.65" r="1.65" fill="#a6d4ea" fill-opacity="0.72"/>
<circle cx="58.4" cy="570.41" r="1.65" fill="#a6d4ea" fill-opacity="0.72"/>
<circle cx="61.07" cy="547.27" r="1.65" fill="#a6d4ea" fill-opacity="0.72"/>
<circle cx="66.13" cy="559.27" r="1.65" fill="#a6d4ea" fill-opacity="0.72"/>
<circle cx="65.34" cy="554.94" r="1.65" fill="#a6d4ea" fill-opacity="0.72"/>
<circle cx="65.06" cy="562.78" r="1.65" fill="#a6d4ea" fill-opacity="0.72"/>
<circle cx="66.3" cy="546.6" r="1.65" fill="#a6d4ea" fill-opacity="0.72"/>
<circle cx="64.31" cy="558.91" r="1.65" fill="#a6d4ea" fill-opacity="0.72"/>
<circle cx="57.88" cy="560.08" r="1.65" fill="#a6d4ea" fill-opacity="0.72"/>
<circle cx="59.44" cy="567.15" r="1.65" fill="#a6d4ea" fill-opacity="0.72"/>
<circle cx="61.37" cy="557.7" r="1.65" fill="#a6d4ea" fill-opacity="0.72"/>
<circle cx="62.49" cy="562.28" r="1.65" fill="#a6d4ea" fill-opacity="0.72"/>
<circle cx="58.62" cy="549.98" r="1.65" fill="#a6d4ea" fill-opacity="0.72"/>
<circle cx="59.5" cy="575.95" r="1.65" fill="#a6d4ea" fill-opacity="0.72"/>
<circle cx="65.85" cy="570.59" r="1.65" fill="#a6d4ea" fill-opacity="0.72"/>
<circle cx="65.32" cy="577.8" r="1.65" fill="#a6d4ea" fill-opacity="0.72"/>
<circle cx="58.16" cy="559.74" r="1.65" fill="#a6d4ea" fill-opacity="0.72"/>
<circle cx="59.39" cy="578.55" r="1.65" fill="#a6d4ea" fill-opacity="0.72"/>
<circle cx="64.78" cy="553.01" r="1.65" fill="#a6d4ea" fill-opacity="0.72"/>
<circle cx="58.81" cy="554.5" r="1.65" fill="#a6d4ea" fill-opacity="0.72"/>
<circle cx="59.3" cy="545.31" r="1.65" fill="#a6d4ea" fill-opacity="0.72"/>
<circle cx="62.85" cy="577.36" r="1.65" fill="#a6d4ea" fill-opacity="0.72"/>
<circle cx="59.08" cy="576.19" r="1.65" fill="#a6d4ea" fill-opacity="0.72"/>
<line x1="61.8" y1="488.3" x2="61.8" y2="542.5" stroke="#a6d4ea" stroke-width="1.2"/>
<line x1="61.8" y1="583.4" x2="61.8" y2="604" stroke="#a6d4ea" stroke-width="1.2"/>
<rect x="55.2" y="542.5" width="13.2" height="40.9" fill="none" stroke="#a6d4ea" stroke-width="1.2"/>
<line x1="55.2" y1="568" x2="68.4" y2="568" stroke="#a6d4ea" stroke-width="1.5"/>
<circle cx="92.3" cy="447.7" r="1.65" fill="#e9a3ab" fill-opacity="0.72"/>
<circle cx="98.6" cy="447.7" r="1.65" fill="#e9a3ab" fill-opacity="0.72"/>
<circle cx="94.1" cy="499.1" r="1.65" fill="#e9a3ab" fill-opacity="0.72"/>
<circle cx="97.5" cy="503.4" r="1.65" fill="#e9a3ab" fill-opacity="0.72"/>
<circle cx="95.6" cy="514.5" r="1.65" fill="#e9a3ab" fill-opacity="0.72"/>
<circle cx="91.4" cy="516.8" r="1.65" fill="#e9a3ab" fill-opacity="0.72"/>
<circle cx="90.9" cy="523.4" r="1.65" fill="#e9a3ab" fill-opacity="0.72"/>
<circle cx="94.5" cy="531.4" r="1.65" fill="#e9a3ab" fill-opacity="0.72"/>
<circle cx="96.4" cy="532.3" r="1.65" fill="#e9a3ab" fill-opacity="0.72"/>
<circle cx="95.9" cy="535" r="1.65" fill="#e9a3ab" fill-opacity="0.72"/>
<circle cx="92.7" cy="536.1" r="1.65" fill="#e9a3ab" fill-opacity="0.72"/>
<circle cx="91.8" cy="545" r="1.65" fill="#e9a3ab" fill-opacity="0.72"/>
<circle cx="94.5" cy="547.5" r="1.65" fill="#e9a3ab" fill-opacity="0.72"/>
<circle cx="89.2" cy="579.6" r="1.65" fill="#e9a3ab" fill-opacity="0.72"/>
<circle cx="93.1" cy="581.5" r="1.65" fill="#e9a3ab" fill-opacity="0.72"/>
<circle cx="96.6" cy="578.9" r="1.65" fill="#e9a3ab" fill-opacity="0.72"/>
<circle cx="98.5" cy="578.3" r="1.65" fill="#e9a3ab" fill-opacity="0.72"/>
<circle cx="98.2" cy="583.7" r="1.65" fill="#e9a3ab" fill-opacity="0.72"/>
<circle cx="94.3" cy="585.3" r="1.65" fill="#e9a3ab" fill-opacity="0.72"/>
<circle cx="89.6" cy="586.2" r="1.65" fill="#e9a3ab" fill-opacity="0.72"/>
<circle cx="89.9" cy="590.4" r="1.65" fill="#e9a3ab" fill-opacity="0.72"/>
<circle cx="92.1" cy="588.5" r="1.65" fill="#e9a3ab" fill-opacity="0.72"/>
<circle cx="97.8" cy="590.4" r="1.65" fill="#e9a3ab" fill-opacity="0.72"/>
<circle cx="93.4" cy="595.2" r="1.65" fill="#e9a3ab" fill-opacity="0.72"/>
<circle cx="96.9" cy="595.2" r="1.65" fill="#e9a3ab" fill-opacity="0.72"/>
<circle cx="97.8" cy="603.8" r="1.65" fill="#e9a3ab" fill-opacity="0.72"/>
<circle cx="93.7" cy="561.32" r="1.65" fill="#e9a3ab" fill-opacity="0.72"/>
<circle cx="92.99" cy="559.6" r="1.65" fill="#e9a3ab" fill-opacity="0.72"/>
<circle cx="92.93" cy="555.59" r="1.65" fill="#e9a3ab" fill-opacity="0.72"/>
<circle cx="95.64" cy="576.81" r="1.65" fill="#e9a3ab" fill-opacity="0.72"/>
<circle cx="90.89" cy="566.91" r="1.65" fill="#e9a3ab" fill-opacity="0.72"/>
<circle cx="97.97" cy="554.63" r="1.65" fill="#e9a3ab" fill-opacity="0.72"/>
<circle cx="89.8" cy="576.37" r="1.65" fill="#e9a3ab" fill-opacity="0.72"/>
<circle cx="96.32" cy="564.36" r="1.65" fill="#e9a3ab" fill-opacity="0.72"/>
<circle cx="90.29" cy="576.84" r="1.65" fill="#e9a3ab" fill-opacity="0.72"/>
<circle cx="97.88" cy="570.73" r="1.65" fill="#e9a3ab" fill-opacity="0.72"/>
<circle cx="96.9" cy="569.89" r="1.65" fill="#e9a3ab" fill-opacity="0.72"/>
<circle cx="95.9" cy="561.1" r="1.65" fill="#e9a3ab" fill-opacity="0.72"/>
<circle cx="93.44" cy="574.08" r="1.65" fill="#e9a3ab" fill-opacity="0.72"/>
<circle cx="94.87" cy="573.89" r="1.65" fill="#e9a3ab" fill-opacity="0.72"/>
<circle cx="94.96" cy="561.86" r="1.65" fill="#e9a3ab" fill-opacity="0.72"/>
<circle cx="95.48" cy="554.31" r="1.65" fill="#e9a3ab" fill-opacity="0.72"/>
<circle cx="96.3" cy="574.29" r="1.65" fill="#e9a3ab" fill-opacity="0.72"/>
<circle cx="94.94" cy="568.06" r="1.65" fill="#e9a3ab" fill-opacity="0.72"/>
<circle cx="90.37" cy="570.08" r="1.65" fill="#e9a3ab" fill-opacity="0.72"/>
<circle cx="95.13" cy="553.04" r="1.65" fill="#e9a3ab" fill-opacity="0.72"/>
<circle cx="96.02" cy="560.65" r="1.65" fill="#e9a3ab" fill-opacity="0.72"/>
<circle cx="98.07" cy="566.15" r="1.65" fill="#e9a3ab" fill-opacity="0.72"/>
<circle cx="92.37" cy="554.15" r="1.65" fill="#e9a3ab" fill-opacity="0.72"/>
<circle cx="91.16" cy="557.36" r="1.65" fill="#e9a3ab" fill-opacity="0.72"/>
<circle cx="93.67" cy="568.8" r="1.65" fill="#e9a3ab" fill-opacity="0.72"/>
<circle cx="95.73" cy="560.47" r="1.65" fill="#e9a3ab" fill-opacity="0.72"/>
<line x1="94.2" y1="514.6" x2="94.2" y2="552.3" stroke="#e9a3ab" stroke-width="1.2"/>
<line x1="94.2" y1="577.3" x2="94.2" y2="603.6" stroke="#e9a3ab" stroke-width="1.2"/>
<rect x="87.6" y="552.3" width="13.2" height="25" fill="none" stroke="#e9a3ab" stroke-width="1.2"/>
<line x1="87.6" y1="564.4" x2="100.8" y2="564.4" stroke="#e9a3ab" stroke-width="1.5"/>
<circle cx="125.5" cy="447.6" r="1.65" fill="#b9a9dc" fill-opacity="0.72"/>
<circle cx="129.6" cy="451.4" r="1.65" fill="#b9a9dc" fill-opacity="0.72"/>
<circle cx="130.4" cy="466.6" r="1.65" fill="#b9a9dc" fill-opacity="0.72"/>
<circle cx="129.1" cy="468.5" r="1.65" fill="#b9a9dc" fill-opacity="0.72"/>
<circle cx="130.8" cy="485" r="1.65" fill="#b9a9dc" fill-opacity="0.72"/>
<circle cx="129.9" cy="494.4" r="1.65" fill="#b9a9dc" fill-opacity="0.72"/>
<circle cx="124.1" cy="497.8" r="1.65" fill="#b9a9dc" fill-opacity="0.72"/>
<circle cx="127.2" cy="499.9" r="1.65" fill="#b9a9dc" fill-opacity="0.72"/>
<circle cx="124.1" cy="502.3" r="1.65" fill="#b9a9dc" fill-opacity="0.72"/>
<circle cx="126.6" cy="502" r="1.65" fill="#b9a9dc" fill-opacity="0.72"/>
<circle cx="128.7" cy="502.3" r="1.65" fill="#b9a9dc" fill-opacity="0.72"/>
<circle cx="127.8" cy="506.3" r="1.65" fill="#b9a9dc" fill-opacity="0.72"/>
<circle cx="125.7" cy="509" r="1.65" fill="#b9a9dc" fill-opacity="0.72"/>
<circle cx="124.1" cy="512.9" r="1.65" fill="#b9a9dc" fill-opacity="0.72"/>
<circle cx="126.6" cy="511.7" r="1.65" fill="#b9a9dc" fill-opacity="0.72"/>
<circle cx="128.4" cy="512.3" r="1.65" fill="#b9a9dc" fill-opacity="0.72"/>
<circle cx="130.5" cy="513.8" r="1.65" fill="#b9a9dc" fill-opacity="0.72"/>
<circle cx="127.8" cy="516" r="1.65" fill="#b9a9dc" fill-opacity="0.72"/>
<circle cx="123.8" cy="521.4" r="1.65" fill="#b9a9dc" fill-opacity="0.72"/>
<circle cx="123.8" cy="567.3" r="1.65" fill="#b9a9dc" fill-opacity="0.72"/>
<circle cx="130.8" cy="567.9" r="1.65" fill="#b9a9dc" fill-opacity="0.72"/>
<circle cx="122.9" cy="571.2" r="1.65" fill="#b9a9dc" fill-opacity="0.72"/>
<circle cx="121.7" cy="575.2" r="1.65" fill="#b9a9dc" fill-opacity="0.72"/>
<circle cx="130.5" cy="573.7" r="1.65" fill="#b9a9dc" fill-opacity="0.72"/>
<circle cx="130.8" cy="575.2" r="1.65" fill="#b9a9dc" fill-opacity="0.72"/>
<circle cx="131.4" cy="579.7" r="1.65" fill="#b9a9dc" fill-opacity="0.72"/>
<circle cx="126.9" cy="581.3" r="1.65" fill="#b9a9dc" fill-opacity="0.72"/>
<circle cx="129.6" cy="581.9" r="1.65" fill="#b9a9dc" fill-opacity="0.72"/>
<circle cx="124.1" cy="585.5" r="1.65" fill="#b9a9dc" fill-opacity="0.72"/>
<circle cx="127.2" cy="586.1" r="1.65" fill="#b9a9dc" fill-opacity="0.72"/>
<circle cx="121.7" cy="588.5" r="1.65" fill="#b9a9dc" fill-opacity="0.72"/>
<circle cx="123.8" cy="589.1" r="1.65" fill="#b9a9dc" fill-opacity="0.72"/>
<circle cx="123.5" cy="591.6" r="1.65" fill="#b9a9dc" fill-opacity="0.72"/>
<circle cx="128.4" cy="589.8" r="1.65" fill="#b9a9dc" fill-opacity="0.72"/>
<circle cx="128.1" cy="592.2" r="1.65" fill="#b9a9dc" fill-opacity="0.72"/>
<circle cx="129.32" cy="542.78" r="1.65" fill="#b9a9dc" fill-opacity="0.72"/>
<circle cx="125.44" cy="560.84" r="1.65" fill="#b9a9dc" fill-opacity="0.72"/>
<circle cx="123.15" cy="536.09" r="1.65" fill="#b9a9dc" fill-opacity="0.72"/>
<circle cx="129.71" cy="553.7" r="1.65" fill="#b9a9dc" fill-opacity="0.72"/>
<circle cx="124.45" cy="563.91" r="1.65" fill="#b9a9dc" fill-opacity="0.72"/>
<circle cx="124.43" cy="543.25" r="1.65" fill="#b9a9dc" fill-opacity="0.72"/>
<circle cx="127.66" cy="542.38" r="1.65" fill="#b9a9dc" fill-opacity="0.72"/>
<circle cx="129.62" cy="539.81" r="1.65" fill="#b9a9dc" fill-opacity="0.72"/>
<circle cx="122.59" cy="542.06" r="1.65" fill="#b9a9dc" fill-opacity="0.72"/>
<circle cx="122.28" cy="555.14" r="1.65" fill="#b9a9dc" fill-opacity="0.72"/>
<circle cx="124.74" cy="547.25" r="1.65" fill="#b9a9dc" fill-opacity="0.72"/>
<circle cx="123.15" cy="523.04" r="1.65" fill="#b9a9dc" fill-opacity="0.72"/>
<circle cx="129.53" cy="527.13" r="1.65" fill="#b9a9dc" fill-opacity="0.72"/>
<circle cx="122.33" cy="533.97" r="1.65" fill="#b9a9dc" fill-opacity="0.72"/>
<circle cx="127.7" cy="541.8" r="1.65" fill="#b9a9dc" fill-opacity="0.72"/>
<circle cx="130.72" cy="557.64" r="1.65" fill="#b9a9dc" fill-opacity="0.72"/>
<circle cx="126.27" cy="530.95" r="1.65" fill="#b9a9dc" fill-opacity="0.72"/>
<circle cx="126.24" cy="525.45" r="1.65" fill="#b9a9dc" fill-opacity="0.72"/>
<circle cx="124.41" cy="530.06" r="1.65" fill="#b9a9dc" fill-opacity="0.72"/>
<circle cx="126.69" cy="549.2" r="1.65" fill="#b9a9dc" fill-opacity="0.72"/>
<circle cx="125.52" cy="555.4" r="1.65" fill="#b9a9dc" fill-opacity="0.72"/>
<circle cx="122.7" cy="561.98" r="1.65" fill="#b9a9dc" fill-opacity="0.72"/>
<circle cx="123.1" cy="553.91" r="1.65" fill="#b9a9dc" fill-opacity="0.72"/>
<circle cx="130.27" cy="547.3" r="1.65" fill="#b9a9dc" fill-opacity="0.72"/>
<circle cx="129.99" cy="545.93" r="1.65" fill="#b9a9dc" fill-opacity="0.72"/>
<circle cx="126.17" cy="563.65" r="1.65" fill="#b9a9dc" fill-opacity="0.72"/>
<circle cx="128.54" cy="531.19" r="1.65" fill="#b9a9dc" fill-opacity="0.72"/>
<circle cx="128.5" cy="550.37" r="1.65" fill="#b9a9dc" fill-opacity="0.72"/>
<circle cx="130.92" cy="556.38" r="1.65" fill="#b9a9dc" fill-opacity="0.72"/>
<circle cx="129.18" cy="545.77" r="1.65" fill="#b9a9dc" fill-opacity="0.72"/>
<circle cx="129.77" cy="556.88" r="1.65" fill="#b9a9dc" fill-opacity="0.72"/>
<circle cx="125.96" cy="531.22" r="1.65" fill="#b9a9dc" fill-opacity="0.72"/>
<circle cx="126.38" cy="555.93" r="1.65" fill="#b9a9dc" fill-opacity="0.72"/>
<circle cx="122.49" cy="552.68" r="1.65" fill="#b9a9dc" fill-opacity="0.72"/>
<circle cx="124.98" cy="529.79" r="1.65" fill="#b9a9dc" fill-opacity="0.72"/>
<circle cx="123.27" cy="528.37" r="1.65" fill="#b9a9dc" fill-opacity="0.72"/>
<circle cx="129.63" cy="553.96" r="1.65" fill="#b9a9dc" fill-opacity="0.72"/>
<circle cx="126.43" cy="563.72" r="1.65" fill="#b9a9dc" fill-opacity="0.72"/>
<circle cx="123.94" cy="525.98" r="1.65" fill="#b9a9dc" fill-opacity="0.72"/>
<circle cx="128.61" cy="534.94" r="1.65" fill="#b9a9dc" fill-opacity="0.72"/>
<line x1="126.5" y1="467" x2="126.5" y2="522.2" stroke="#b9a9dc" stroke-width="1.2"/>
<line x1="126.5" y1="566.1" x2="126.5" y2="591.8" stroke="#b9a9dc" stroke-width="1.2"/>
<rect x="119.9" y="522.2" width="13.2" height="43.9" fill="none" stroke="#b9a9dc" stroke-width="1.2"/>
<line x1="119.9" y1="544.6" x2="133.1" y2="544.6" stroke="#b9a9dc" stroke-width="1.5"/>
<circle cx="157.3" cy="480" r="1.65" fill="#edc38f" fill-opacity="0.72"/>
<circle cx="156.4" cy="528.9" r="1.65" fill="#edc38f" fill-opacity="0.72"/>
<circle cx="159.8" cy="530.8" r="1.65" fill="#edc38f" fill-opacity="0.72"/>
<circle cx="158.1" cy="541" r="1.65" fill="#edc38f" fill-opacity="0.72"/>
<circle cx="160.3" cy="542.7" r="1.65" fill="#edc38f" fill-opacity="0.72"/>
<circle cx="156.9" cy="546.7" r="1.65" fill="#edc38f" fill-opacity="0.72"/>
<circle cx="161.5" cy="544.4" r="1.65" fill="#edc38f" fill-opacity="0.72"/>
<circle cx="162.6" cy="567.7" r="1.65" fill="#edc38f" fill-opacity="0.72"/>
<circle cx="162" cy="572.5" r="1.65" fill="#edc38f" fill-opacity="0.72"/>
<circle cx="159.2" cy="578.9" r="1.65" fill="#edc38f" fill-opacity="0.72"/>
<circle cx="161.5" cy="585.9" r="1.65" fill="#edc38f" fill-opacity="0.72"/>
<line x1="158.9" y1="530.8" x2="158.9" y2="538.2" stroke="#edc38f" stroke-width="1.2"/>
<line x1="158.9" y1="574.5" x2="158.9" y2="585.5" stroke="#edc38f" stroke-width="1.2"/>
<rect x="152.3" y="538.2" width="13.2" height="36.3" fill="none" stroke="#edc38f" stroke-width="1.2"/>
<line x1="152.3" y1="545.6" x2="165.5" y2="545.6" stroke="#edc38f" stroke-width="1.5"/>
<rect x="42.5" y="440.5" width="136" height="171" fill="none" stroke="#333" stroke-width="1"/>
<line x1="39.6" y1="556.5" x2="42.5" y2="556.5" stroke="#333" stroke-width="0.9"/>
<text x="38.2" y="559.8" font-size="9" fill="#1a1a1a" stroke="#1a1a1a" stroke-width="0.14" text-anchor="end" textLength="9.8" lengthAdjust="spacingAndGlyphs">10</text>
<line x1="39.6" y1="488.4" x2="42.5" y2="488.4" stroke="#333" stroke-width="0.9"/>
<text x="38.2" y="491.7" font-size="9" fill="#1a1a1a" stroke="#1a1a1a" stroke-width="0.14" text-anchor="end" textLength="9.8" lengthAdjust="spacingAndGlyphs">20</text>
<line x1="61.8" y1="611.5" x2="61.8" y2="614.1" stroke="#333" stroke-width="0.9"/>
<line x1="94.2" y1="611.5" x2="94.2" y2="614.1" stroke="#333" stroke-width="0.9"/>
<line x1="126.5" y1="611.5" x2="126.5" y2="614.1" stroke="#333" stroke-width="0.9"/>
<line x1="158.9" y1="611.5" x2="158.9" y2="614.1" stroke="#333" stroke-width="0.9"/>
<text x="0" y="0" font-size="8.5" fill="#1a1a1a" stroke="#1a1a1a" stroke-width="0.14" text-anchor="end" transform="translate(64.4,623.3) rotate(-30)">CNN+Attention</text>
<text x="0" y="0" font-size="8.5" fill="#1a1a1a" stroke="#1a1a1a" stroke-width="0.14" text-anchor="end" transform="translate(96.8,623.3) rotate(-30)">CNN+Transformer</text>
<text x="0" y="0" font-size="8.5" fill="#1a1a1a" stroke="#1a1a1a" stroke-width="0.14" text-anchor="end" transform="translate(129.1,623.3) rotate(-30)">DanQ</text>
<text x="0" y="0" font-size="8.5" fill="#1a1a1a" stroke="#1a1a1a" stroke-width="0.14" text-anchor="end" transform="translate(161.5,623.3) rotate(-30)">DeepSEA</text>
<text x="0" y="0" font-size="9.6" fill="#1a1a1a" stroke="#1a1a1a" stroke-width="0.14" text-anchor="middle" textLength="100.5" lengthAdjust="spacingAndGlyphs" transform="translate(24.7,525.5) rotate(-90)">Information Content (IC)</text>
<rect x="240.3" y="438.9" width="29.2" height="14.72" fill="#b3dcea"/>
<rect x="269.2" y="438.9" width="29.2" height="14.72" fill="#b1c1e1"/>
<rect x="298.1" y="438.9" width="29.2" height="14.72" fill="#b5def0"/>
<rect x="327" y="438.9" width="29.2" height="14.72" fill="#b1b3dc"/>
<text x="233.4" y="449.91" font-size="8.75" fill="#1a1a1a" stroke="#1a1a1a" stroke-width="0.14" text-anchor="end">ZFX</text>
<rect x="240.3" y="453.32" width="29.2" height="14.72" fill="#aed4e8"/>
<rect x="269.2" y="453.32" width="29.2" height="14.72" fill="#b5dfee"/>
<rect x="298.1" y="453.32" width="29.2" height="14.72" fill="#b1c5e4"/>
<rect x="327" y="453.32" width="29.2" height="14.72" fill="#fcfcfc"/>
<text x="233.4" y="464.33" font-size="8.75" fill="#1a1a1a" stroke="#1a1a1a" stroke-width="0.14" text-anchor="end">TCFCP2l1</text>
<rect x="240.3" y="467.74" width="29.2" height="14.72" fill="#aed4e8"/>
<rect x="269.2" y="467.74" width="29.2" height="14.72" fill="#b2dbec"/>
<rect x="298.1" y="467.74" width="29.2" height="14.72" fill="#b3c2e2"/>
<rect x="327" y="467.74" width="29.2" height="14.72" fill="#ffffff"/>
<text x="233.4" y="478.75" font-size="8.75" fill="#1a1a1a" stroke="#1a1a1a" stroke-width="0.14" text-anchor="end">STAT3</text>
<rect x="240.3" y="482.16" width="29.2" height="14.72" fill="#badfef"/>
<rect x="269.2" y="482.16" width="29.2" height="14.72" fill="#b1a3d3"/>
<rect x="298.1" y="482.16" width="29.2" height="14.72" fill="#b1c3e3"/>
<rect x="327" y="482.16" width="29.2" height="14.72" fill="#b2a6d4"/>
<text x="233.4" y="493.17" font-size="8.75" fill="#1a1a1a" stroke="#1a1a1a" stroke-width="0.14" text-anchor="end">SOX2</text>
<rect x="240.3" y="496.58" width="29.2" height="14.72" fill="#b1c4e4"/>
<rect x="269.2" y="496.58" width="29.2" height="14.72" fill="#b3b0da"/>
<rect x="298.1" y="496.58" width="29.2" height="14.72" fill="#b1c3e3"/>
<rect x="327" y="496.58" width="29.2" height="14.72" fill="#b09ad0"/>
<text x="233.4" y="507.59" font-size="8.75" fill="#1a1a1a" stroke="#1a1a1a" stroke-width="0.14" text-anchor="end">SMAD1</text>
<rect x="240.3" y="511" width="29.2" height="14.72" fill="#c5e3ef"/>
<rect x="269.2" y="511" width="29.2" height="14.72" fill="#b3b3dc"/>
<rect x="298.1" y="511" width="29.2" height="14.72" fill="#b1c3e3"/>
<rect x="327" y="511" width="29.2" height="14.72" fill="#b2a9d6"/>
<text x="233.4" y="522.01" font-size="8.75" fill="#1a1a1a" stroke="#1a1a1a" stroke-width="0.14" text-anchor="end">OCT4</text>
<rect x="240.3" y="525.42" width="29.2" height="14.72" fill="#b0d5e8"/>
<rect x="269.2" y="525.42" width="29.2" height="14.72" fill="#b1d5e8"/>
<rect x="298.1" y="525.42" width="29.2" height="14.72" fill="#b7e0ef"/>
<rect x="327" y="525.42" width="29.2" height="14.72" fill="#b3c4e2"/>
<text x="233.4" y="536.43" font-size="8.75" fill="#1a1a1a" stroke="#1a1a1a" stroke-width="0.14" text-anchor="end">NMYC</text>
<rect x="240.3" y="539.84" width="29.2" height="14.72" fill="#bfe0ef"/>
<rect x="269.2" y="539.84" width="29.2" height="14.72" fill="#b5c8e5"/>
<rect x="298.1" y="539.84" width="29.2" height="14.72" fill="#b1d0e8"/>
<rect x="327" y="539.84" width="29.2" height="14.72" fill="#b3a8d6"/>
<text x="233.4" y="550.85" font-size="8.75" fill="#1a1a1a" stroke="#1a1a1a" stroke-width="0.14" text-anchor="end">NANOG</text>
<rect x="240.3" y="554.26" width="29.2" height="14.72" fill="#b6dff0"/>
<rect x="269.2" y="554.26" width="29.2" height="14.72" fill="#b3b3dc"/>
<rect x="298.1" y="554.26" width="29.2" height="14.72" fill="#b1d0e8"/>
<rect x="327" y="554.26" width="29.2" height="14.72" fill="#d5ebf3"/>
<text x="233.4" y="565.27" font-size="8.75" fill="#1a1a1a" stroke="#1a1a1a" stroke-width="0.14" text-anchor="end">KLF4</text>
<rect x="240.3" y="568.68" width="29.2" height="14.72" fill="#b6dff0"/>
<rect x="269.2" y="568.68" width="29.2" height="14.72" fill="#d2e8f2"/>
<rect x="298.1" y="568.68" width="29.2" height="14.72" fill="#b1d0e8"/>
<rect x="327" y="568.68" width="29.2" height="14.72" fill="#eff3f5"/>
<text x="233.4" y="579.69" font-size="8.75" fill="#1a1a1a" stroke="#1a1a1a" stroke-width="0.14" text-anchor="end">ESRRB</text>
<rect x="240.3" y="583.1" width="29.2" height="14.72" fill="#b6dff0"/>
<rect x="269.2" y="583.1" width="29.2" height="14.72" fill="#b6dff0"/>
<rect x="298.1" y="583.1" width="29.2" height="14.72" fill="#b3c5e3"/>
<rect x="327" y="583.1" width="29.2" height="14.72" fill="#d9ecf3"/>
<text x="233.4" y="594.11" font-size="8.75" fill="#1a1a1a" stroke="#1a1a1a" stroke-width="0.14" text-anchor="end">CTCF</text>
<rect x="240.3" y="597.52" width="29.2" height="14.72" fill="#b1d5e8"/>
<rect x="269.2" y="597.52" width="29.2" height="14.72" fill="#b3c3e2"/>
<rect x="298.1" y="597.52" width="29.2" height="14.72" fill="#b8e1f0"/>
<rect x="327" y="597.52" width="29.2" height="14.72" fill="#b3b3dc"/>
<text x="233.4" y="608.53" font-size="8.75" fill="#1a1a1a" stroke="#1a1a1a" stroke-width="0.14" text-anchor="end">CMYC</text>
<text x="0" y="0" font-size="8.65" fill="#1a1a1a" stroke="#1a1a1a" stroke-width="0.14" text-anchor="end" transform="translate(257.95,623.6) rotate(-30)">CNN+Attention</text>
<text x="0" y="0" font-size="8.65" fill="#1a1a1a" stroke="#1a1a1a" stroke-width="0.14" text-anchor="end" transform="translate(286.85,623.6) rotate(-30)">CNN+Transformer</text>
<text x="0" y="0" font-size="8.65" fill="#1a1a1a" stroke="#1a1a1a" stroke-width="0.14" text-anchor="end" transform="translate(315.75,623.6) rotate(-30)">DanQ</text>
<text x="0" y="0" font-size="8.65" fill="#1a1a1a" stroke="#1a1a1a" stroke-width="0.14" text-anchor="end" transform="translate(344.65,623.6) rotate(-30)">DeepSEA</text>
<rect x="372.9" y="493.7" width="15.5" height="73.6" fill="url(#gG)"/>
<line x1="372.9" y1="505.8" x2="375.8" y2="505.8" stroke="#ffffff" stroke-width="0.7"/>
<line x1="385.5" y1="505.8" x2="388.4" y2="505.8" stroke="#ffffff" stroke-width="0.7"/>
<text x="393" y="509" font-size="8.8" fill="#1a1a1a" stroke="#1a1a1a" stroke-width="0.14">3.0</text>
<line x1="372.9" y1="519.2" x2="375.8" y2="519.2" stroke="#ffffff" stroke-width="0.7"/>
<line x1="385.5" y1="519.2" x2="388.4" y2="519.2" stroke="#ffffff" stroke-width="0.7"/>
<text x="393" y="522.4" font-size="8.8" fill="#1a1a1a" stroke="#1a1a1a" stroke-width="0.14">2.5</text>
<line x1="372.9" y1="532.4" x2="375.8" y2="532.4" stroke="#ffffff" stroke-width="0.7"/>
<line x1="385.5" y1="532.4" x2="388.4" y2="532.4" stroke="#ffffff" stroke-width="0.7"/>
<text x="393" y="535.6" font-size="8.8" fill="#1a1a1a" stroke="#1a1a1a" stroke-width="0.14">2.0</text>
<line x1="372.9" y1="545.7" x2="375.8" y2="545.7" stroke="#ffffff" stroke-width="0.7"/>
<line x1="385.5" y1="545.7" x2="388.4" y2="545.7" stroke="#ffffff" stroke-width="0.7"/>
<text x="393" y="548.9" font-size="8.8" fill="#1a1a1a" stroke="#1a1a1a" stroke-width="0.14">1.5</text>
<line x1="372.9" y1="558.9" x2="375.8" y2="558.9" stroke="#ffffff" stroke-width="0.7"/>
<line x1="385.5" y1="558.9" x2="388.4" y2="558.9" stroke="#ffffff" stroke-width="0.7"/>
<text x="393" y="562.1" font-size="8.8" fill="#1a1a1a" stroke="#1a1a1a" stroke-width="0.14">1.0</text>
<text x="373.2" y="489.2" font-size="8.8" fill="#1a1a1a" stroke="#1a1a1a" stroke-width="0.14" textLength="57" lengthAdjust="spacingAndGlyphs">−log10(p−value)</text>
<rect x="432.4" y="431" width="162.38" height="20.3" fill="#add7ea"/>
<text x="433.6" y="445.1" font-size="8.45" fill="#333333" stroke="#333333" stroke-width="0.05" textLength="146.4" lengthAdjust="spacingAndGlyphs">Neuroactive ligand−receptor interaction</text>
<rect x="432.4" y="453.83" width="28.27" height="20.3" fill="#b8e3ec"/>
<text x="433.6" y="467.93" font-size="8.45" fill="#333333" stroke="#333333" stroke-width="0.05" textLength="66.2" lengthAdjust="spacingAndGlyphs">Nicotine addiction</text>
<rect x="432.4" y="476.66" width="58.43" height="20.3" fill="#b6e1ec"/>
<text x="433.6" y="490.76" font-size="8.45" fill="#333333" stroke="#333333" stroke-width="0.05" textLength="81.2" lengthAdjust="spacingAndGlyphs">Serotonergic synapse</text>
<rect x="432.4" y="499.49" width="43.63" height="20.3" fill="#b8e3ec"/>
<text x="433.6" y="513.59" font-size="8.45" fill="#333333" stroke="#333333" stroke-width="0.05" textLength="71.5" lengthAdjust="spacingAndGlyphs">Morphine addiction</text>
<rect x="432.4" y="522.32" width="69.81" height="20.3" fill="#b5e0ec"/>
<text x="433.6" y="536.42" font-size="8.45" fill="#333333" stroke="#333333" stroke-width="0.05" textLength="91.2" lengthAdjust="spacingAndGlyphs">Cell adhesion molecules</text>
<rect x="432.4" y="545.15" width="69.81" height="20.3" fill="#b5e0ec"/>
<text x="433.6" y="559.25" font-size="8.45" fill="#333333" stroke="#333333" stroke-width="0.05" textLength="55.7" lengthAdjust="spacingAndGlyphs">Axon guidance</text>
<rect x="432.4" y="567.98" width="32.06" height="20.3" fill="#b8e3ec"/>
<text x="433.6" y="582.08" font-size="8.45" fill="#333333" stroke="#333333" stroke-width="0.05" textLength="84.1" lengthAdjust="spacingAndGlyphs">Long−term depression</text>
<rect x="432.4" y="590.81" width="47.42" height="20.3" fill="#b8e3ec"/>
<text x="433.6" y="604.91" font-size="8.45" fill="#333333" stroke="#333333" stroke-width="0.05" textLength="85.9" lengthAdjust="spacingAndGlyphs">Glutamatergic synapse</text>
<rect x="432.4" y="613.64" width="83.28" height="20.3" fill="#b4e0ec"/>
<text x="433.6" y="627.74" font-size="8.45" fill="#333333" stroke="#333333" stroke-width="0.05" textLength="99.1" lengthAdjust="spacingAndGlyphs">Calcium signaling pathway</text>
<text x="432.4" y="648.3" font-size="8.8" fill="#4d4d4d" stroke="#4d4d4d" stroke-width="0.14" text-anchor="middle">0</text>
<text x="479.82" y="648.3" font-size="8.8" fill="#4d4d4d" stroke="#4d4d4d" stroke-width="0.14" text-anchor="middle">25</text>
<text x="527.25" y="648.3" font-size="8.8" fill="#4d4d4d" stroke="#4d4d4d" stroke-width="0.14" text-anchor="middle">50</text>
<text x="574.67" y="648.3" font-size="8.8" fill="#4d4d4d" stroke="#4d4d4d" stroke-width="0.14" text-anchor="middle">75</text>
<text x="513.6" y="658.4" font-size="9.4" fill="#1a1a1a" stroke="#1a1a1a" stroke-width="0.14" text-anchor="middle" textLength="45.7" lengthAdjust="spacingAndGlyphs">Gene Count</text>
<rect x="617.6" y="477.8" width="12" height="121.9" fill="url(#gH)"/>
<line x1="617.6" y1="484" x2="620" y2="484" stroke="#ffffff" stroke-width="0.7"/>
<line x1="627.2" y1="484" x2="629.6" y2="484" stroke="#ffffff" stroke-width="0.7"/>
<text x="635.6" y="487.2" font-size="8.8" fill="#1a1a1a" stroke="#1a1a1a" stroke-width="0.14">8</text>
<line x1="617.6" y1="519.9" x2="620" y2="519.9" stroke="#ffffff" stroke-width="0.7"/>
<line x1="627.2" y1="519.9" x2="629.6" y2="519.9" stroke="#ffffff" stroke-width="0.7"/>
<text x="635.6" y="523.1" font-size="8.8" fill="#1a1a1a" stroke="#1a1a1a" stroke-width="0.14">6</text>
<line x1="617.6" y1="556" x2="620" y2="556" stroke="#ffffff" stroke-width="0.7"/>
<line x1="627.2" y1="556" x2="629.6" y2="556" stroke="#ffffff" stroke-width="0.7"/>
<text x="635.6" y="559.2" font-size="8.8" fill="#1a1a1a" stroke="#1a1a1a" stroke-width="0.14">4</text>
<line x1="617.6" y1="592.2" x2="620" y2="592.2" stroke="#ffffff" stroke-width="0.7"/>
<line x1="627.2" y1="592.2" x2="629.6" y2="592.2" stroke="#ffffff" stroke-width="0.7"/>
<text x="635.6" y="595.4" font-size="8.8" fill="#1a1a1a" stroke="#1a1a1a" stroke-width="0.14">2</text>
<text x="618.4" y="473.1" font-size="8.8" fill="#1a1a1a" stroke="#1a1a1a" stroke-width="0.14" textLength="61" lengthAdjust="spacingAndGlyphs">−log10(P.adjust)</text>
</svg>
</body></html>
